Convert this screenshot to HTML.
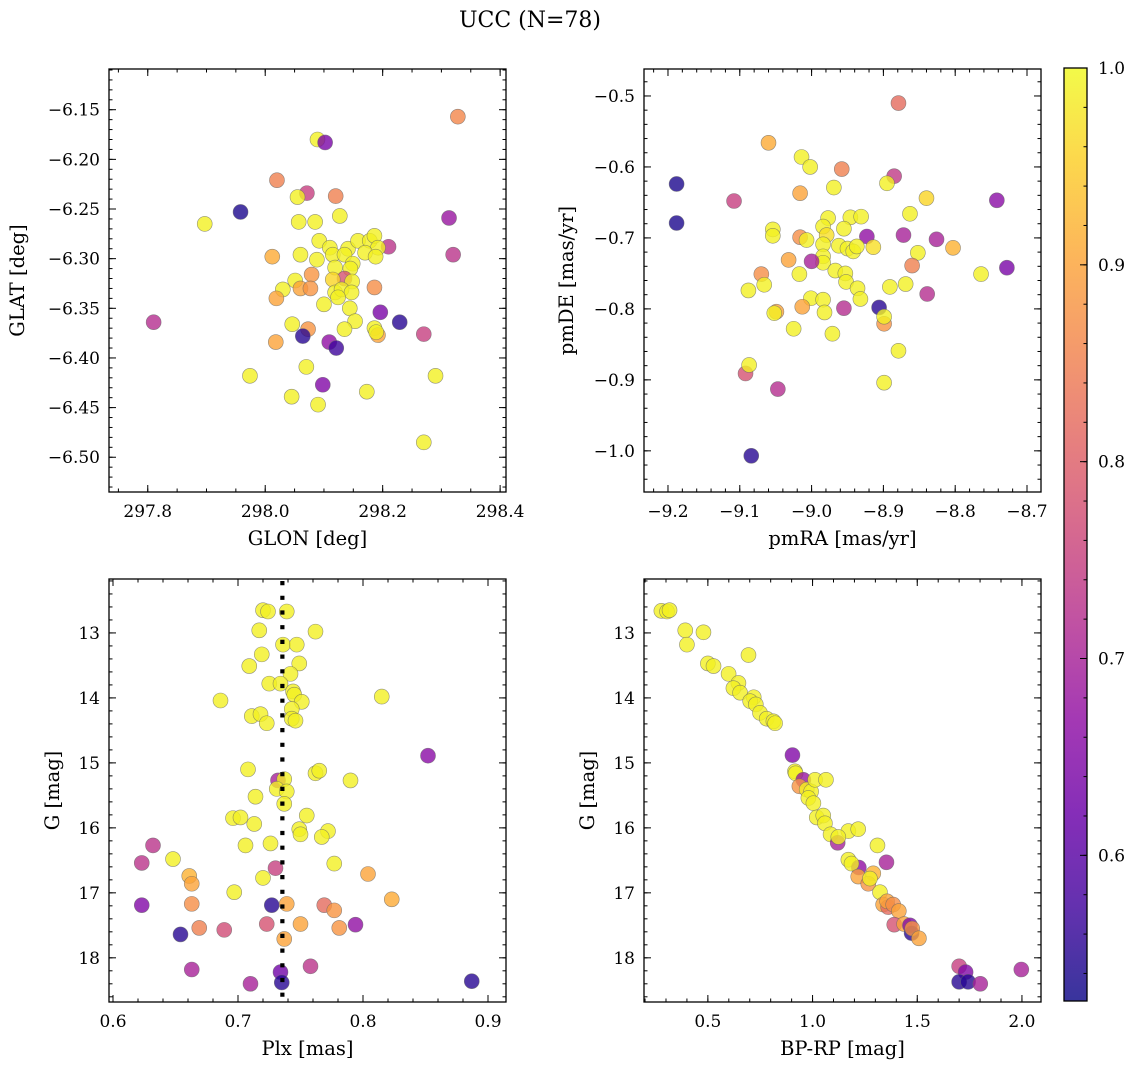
<!DOCTYPE html>
<html><head><meta charset="utf-8"><style>
html,body{margin:0;padding:0;background:#fff;}
svg{display:block;font-family:"DejaVu Serif","Liberation Serif",serif;}
</style></head><body>
<svg id="fig" width="1136" height="1068" viewBox="0 0 1136 1068" xmlns="http://www.w3.org/2000/svg">
<text x="530" y="27" text-anchor="middle" font-size="22">UCC (N=78)</text>
</svg>
<script>
// ---- Panel 1: GLON vs GLAT ----
const glon = [298.328,298.089,298.102,298.020,298.071,298.055,298.120,297.958,297.897,298.057,298.085,298.127,298.313,298.320,298.210,298.092,298.110,298.141,298.158,298.178,298.186,298.192,298.170,298.188,298.115,298.135,298.060,298.012,298.088,298.149,298.119,298.145,298.079,298.051,298.135,298.115,298.148,298.030,298.060,298.077,298.119,298.130,298.147,298.186,298.019,298.124,298.100,298.144,298.196,298.153,297.810,298.046,298.073,298.135,298.186,298.229,298.192,298.189,298.064,298.270,298.018,298.109,298.121,298.070,297.974,298.290,298.098,298.173,298.045,298.090,298.270];
const glat = [-6.157,-6.180,-6.183,-6.221,-6.234,-6.238,-6.237,-6.253,-6.265,-6.263,-6.263,-6.257,-6.259,-6.296,-6.288,-6.282,-6.289,-6.290,-6.282,-6.282,-6.277,-6.289,-6.294,-6.298,-6.296,-6.296,-6.296,-6.298,-6.301,-6.305,-6.309,-6.310,-6.316,-6.322,-6.320,-6.321,-6.323,-6.331,-6.330,-6.330,-6.334,-6.331,-6.334,-6.329,-6.340,-6.339,-6.346,-6.350,-6.354,-6.363,-6.364,-6.366,-6.371,-6.371,-6.370,-6.364,-6.377,-6.374,-6.378,-6.376,-6.384,-6.384,-6.390,-6.409,-6.418,-6.418,-6.427,-6.434,-6.439,-6.447,-6.485];
const p1 = [.86,.99,.64,.85,.75,.99,.85,.54,.99,.99,.99,.99,.68,.73,.73,.99,.99,.99,.99,.99,.99,.99,.99,.99,.99,.99,.99,.91,.99,.99,.99,.99,.88,.99,.78,.96,.99,.99,.9,.88,.99,.99,.99,.87,.9,.99,.99,.99,.64,.99,.72,.99,.88,.99,.99,.55,.9,.99,.55,.75,.9,.67,.57,.99,.99,.99,.65,.99,.99,.99,.99];
// ---- Panel 2: pmRA vs pmDE ----
const pmra = [-8.879,-9.060,-9.014,-9.002,-8.958,-8.885,-8.895,-9.188,-8.969,-9.108,-9.016,-8.840,-8.742,-9.188,-8.863,-8.977,-8.946,-8.931,-9.054,-9.054,-8.984,-8.955,-9.016,-9.007,-8.979,-8.984,-8.962,-8.923,-8.872,-8.826,-8.803,-8.914,-8.950,-8.942,-8.937,-8.852,-9.032,-8.984,-8.984,-9.000,-8.860,-8.728,-8.764,-9.070,-9.017,-8.967,-8.953,-8.952,-9.066,-9.088,-8.936,-8.891,-8.869,-8.932,-8.839,-9.001,-8.984,-9.013,-8.955,-8.906,-9.049,-9.052,-8.982,-8.899,-8.899,-8.971,-9.025,-8.879,-9.092,-9.087,-8.899,-9.047,-9.084];
const pmde = [-0.510,-0.566,-0.586,-0.600,-0.603,-0.613,-0.623,-0.624,-0.629,-0.648,-0.637,-0.644,-0.647,-0.679,-0.666,-0.672,-0.671,-0.670,-0.688,-0.697,-0.684,-0.687,-0.699,-0.703,-0.696,-0.709,-0.711,-0.698,-0.696,-0.702,-0.714,-0.713,-0.715,-0.719,-0.712,-0.721,-0.731,-0.726,-0.735,-0.733,-0.739,-0.742,-0.751,-0.751,-0.751,-0.746,-0.750,-0.762,-0.766,-0.774,-0.771,-0.769,-0.765,-0.786,-0.779,-0.785,-0.787,-0.797,-0.799,-0.798,-0.804,-0.806,-0.805,-0.821,-0.811,-0.835,-0.828,-0.859,-0.891,-0.879,-0.904,-0.913,-1.007];
const p2 = [.82,.91,.99,.99,.85,.74,.99,.54,.99,.75,.9,.96,.66,.54,.99,.99,.99,.99,.99,.99,.99,.99,.87,.99,.97,.99,.99,.67,.7,.7,.92,.97,.99,.99,.99,.99,.9,.99,.99,.7,.85,.64,.99,.87,.99,.99,.99,.99,.99,.99,.99,.99,.99,.99,.72,.99,.99,.9,.72,.55,.9,.99,.99,.88,.99,.99,.99,.99,.78,.99,.99,.72,.55];
// ---- Panel 3: Plx vs G ----
const plx = [.720,.724,.739,.717,.762,.736,.747,.719,.709,.749,.742,.725,.734,.744,.745,.686,.751,.815,.743,.711,.718,.723,.743,.746,.852,.708,.762,.765,.790,.732,.737,.731,.739,.737,.714,.755,.696,.702,.713,.749,.750,.772,.767,.706,.726,.632,.623,.648,.730,.777,.661,.663,.720,.804,.697,.823,.623,.663,.727,.739,.769,.777,.723,.750,.794,.654,.669,.689,.781,.737,.663,.758,.734,.710,.735,.887];
const g3 = [12.65,12.67,12.67,12.96,12.98,13.18,13.18,13.33,13.51,13.47,13.63,13.78,13.78,13.90,13.95,14.04,14.06,13.98,14.17,14.28,14.25,14.39,14.32,14.35,14.89,15.10,15.16,15.12,15.27,15.27,15.25,15.40,15.44,15.63,15.52,15.81,15.85,15.84,15.94,16.02,16.10,16.05,16.14,16.27,16.24,16.27,16.54,16.48,16.62,16.55,16.74,16.86,16.77,16.71,16.99,17.10,17.19,17.17,17.19,17.17,17.19,17.27,17.48,17.48,17.49,17.64,17.54,17.57,17.54,17.71,18.18,18.13,18.22,18.40,18.38,18.36];
const p3 = [.99,.99,.99,.99,.99,.99,.99,.99,.99,.99,.99,.99,.99,.99,.99,.99,.99,.99,.99,.99,.99,.99,.99,.99,.66,.99,.99,.99,.99,.7,.99,.99,.99,.99,.99,.99,.99,.99,.99,.99,.99,.99,.99,.99,.99,.73,.73,.99,.75,.99,.92,.9,.99,.9,.99,.91,.65,.87,.55,.9,.82,.88,.78,.9,.67,.55,.85,.77,.88,.9,.7,.73,.63,.7,.55,.55];
const plxMedian = 0.7355;
// ---- Panel 4: BP-RP vs G ----
const bprp = [.278,.305,.317,.392,.479,.400,.694,.500,.527,.599,.646,.622,.654,.719,.702,.729,.749,.781,.813,.821,.904,.916,.919,.956,.937,.972,.993,1.012,1.064,.980,1.004,1.020,1.051,1.059,1.171,1.218,1.086,1.120,1.123,1.310,1.353,1.171,1.221,1.186,1.218,1.290,1.266,1.274,1.322,1.337,1.361,1.356,1.385,1.412,1.390,1.437,1.465,1.473,1.476,1.508,1.700,1.731,1.700,1.743,1.801,1.997];
const g4 = [12.66,12.67,12.65,12.96,12.99,13.18,13.34,13.47,13.51,13.63,13.77,13.85,13.92,13.99,14.05,14.10,14.23,14.32,14.36,14.39,14.88,15.13,15.16,15.26,15.36,15.41,15.44,15.26,15.26,15.54,15.62,15.84,15.81,15.93,16.05,16.02,16.10,16.23,16.14,16.27,16.53,16.49,16.61,16.55,16.75,16.70,16.86,16.78,16.99,17.18,17.22,17.13,17.18,17.28,17.49,17.48,17.50,17.62,17.55,17.70,18.13,18.22,18.37,18.37,18.40,18.18];
const p4 = [.99,.99,.99,.99,.99,.99,.99,.99,.99,.99,.99,.99,.99,.99,.99,.99,.99,.99,.99,.99,.65,.99,.99,.68,.88,.99,.99,.99,.99,.99,.99,.99,.99,.99,.99,.99,.99,.7,.99,.99,.7,.99,.67,.99,.9,.92,.88,.99,.99,.9,.82,.9,.87,.9,.78,.9,.65,.55,.88,.9,.75,.65,.55,.55,.7,.7];
// colorbar
const cbTicks = [0.6,0.7,0.8,0.9,1.0];
const cbMin = 0.526, cbMax = 1.0;

const NS = "http://www.w3.org/2000/svg";
const svg = document.getElementById('fig');
function mk(tag, attrs, parent){const e=document.createElementNS(NS,tag);for(const k in attrs)e.setAttribute(k,attrs[k]);(parent||svg).appendChild(e);return e;}

const plasma=[[13,8,135],[65,4,157],[106,0,168],[143,13,164],[177,42,144],[204,71,120],[225,100,98],[242,132,75],[252,166,54],[252,206,37],[240,249,33]];
function cmap(t){t=Math.max(0,Math.min(1,t));const f=t*10,i=Math.min(9,Math.floor(f)),r=f-i;const a=plasma[i],b=plasma[i+1];
 return 'rgb('+[0,1,2].map(k=>Math.round(a[k]+(b[k]-a[k])*r)).join(',')+')';}
function colorOf(p){return cmap((p-cbMin)/(cbMax-cbMin));}

function fmt(v,d){const s=Math.abs(v).toFixed(d);return (v<-1e-9?'\u2212':'')+s;}

function panel(cfg){
 const g=mk('g',{});
 
 
 const {L,R,T,B}=cfg;
 const sx=v=>L+(v-cfg.x0)/(cfg.x1-cfg.x0)*(R-L);
 const sy=v=>T+(v-cfg.y0)/(cfg.y1-cfg.y0)*(B-T);
 const pg=mk('g',{},g);
 
 
 for(let i=0;i<Math.min(cfg.xs.length,cfg.ys.length,cfg.ps.length);i++){
  const c=mk('circle',{cx:sx(cfg.xs[i]),cy:sy(cfg.ys[i]),r:7.5,fill:colorOf(cfg.ps[i]),'fill-opacity':0.8,stroke:'#666','stroke-width':0.6,'stroke-opacity':0.7},pg);
  
  
 }
 if(cfg.vline!==undefined){
  const l=mk('line',{x1:sx(cfg.vline),x2:sx(cfg.vline),y1:T+2,y2:B,stroke:'#000','stroke-width':4.2,'stroke-dasharray':'4.2 10.5'},g);
  
  
 }
 const tk=mk('g',{stroke:'#000','stroke-width':1},g);
 const eps=1e-9;
 function range(a,b,step){const out=[];const s=Math.ceil(Math.min(a,b)/step-eps);for(let k=s;k*step<=Math.max(a,b)+eps;k++)out.push(+(k*step).toFixed(6));return out;}
 range(cfg.x0,cfg.x1,cfg.xminor).forEach(v=>{const x=sx(v);mk('line',{x1:x,x2:x,y1:B,y2:B-3.5},tk);mk('line',{x1:x,x2:x,y1:T,y2:T+3.5},tk);});
 range(cfg.y0,cfg.y1,cfg.yminor).forEach(v=>{const y=sy(v);mk('line',{x1:L,x2:L+3.5,y1:y,y2:y},tk);mk('line',{x1:R,x2:R-3.5,y1:y,y2:y},tk);});
 cfg.xticks.forEach(v=>{const x=sx(v);mk('line',{x1:x,x2:x,y1:B,y2:B-7},tk);mk('line',{x1:x,x2:x,y1:T,y2:T+7},tk);
  const t=mk('text',{x:x,y:B+25,'text-anchor':'middle','font-size':17},g);t.textContent=fmt(v,cfg.xdec);
  
  });
 cfg.yticks.forEach(v=>{const y=sy(v);mk('line',{x1:L,x2:L+7,y1:y,y2:y},tk);mk('line',{x1:R,x2:R-7,y1:y,y2:y},tk);
  const t=mk('text',{x:L-9,y:y+6,'text-anchor':'end','font-size':17},g);t.textContent=fmt(v,cfg.ydec);
  
  });
 const fr=mk('rect',{x:L,y:T,width:R-L,height:B-T,fill:'none',stroke:'#000','stroke-width':1.3},g);
 
 
 const xl=mk('text',{x:(L+R)/2,y:B+53,'text-anchor':'middle','font-size':19.5},g);xl.textContent=cfg.xlabel;
 
 
 const yy=(T+B)/2;
 const yl=mk('text',{x:cfg.ylx,y:yy,'text-anchor':'middle','font-size':19.5,transform:'rotate(-90 '+cfg.ylx+' '+yy+')'},g);yl.textContent=cfg.ylabel;
 
 
}

panel({name:'sky-position-panel',L:109,R:506,T:69,B:492,x0:297.734,x1:298.410,y0:-6.109,y1:-6.535,
 xs:glon,ys:glat,ps:p1,xticks:[297.8,298.0,298.2,298.4],xdec:1,xminor:0.05,yticks:[-6.15,-6.2,-6.25,-6.3,-6.35,-6.4,-6.45,-6.5],ydec:2,yminor:0.01,
 xlabel:'GLON [deg]',ylabel:'GLAT [deg]',ylx:24});
panel({name:'proper-motion-panel',L:644,R:1041,T:69,B:492,x0:-9.2334,x1:-8.6805,y0:-0.462,y1:-1.058,
 xs:pmra,ys:pmde,ps:p2,xticks:[-9.2,-9.1,-9.0,-8.9,-8.8,-8.7],xdec:1,xminor:0.02,yticks:[-0.5,-0.6,-0.7,-0.8,-0.9,-1.0],ydec:1,yminor:0.02,
 xlabel:'pmRA [mas/yr]',ylabel:'pmDE [mas/yr]',ylx:573});
panel({name:'parallax-panel',L:109,R:506,T:579,B:1002,x0:0.5968,x1:0.9144,y0:12.17,y1:18.68,
 xs:plx,ys:g3,ps:p3,vline:plxMedian,xticks:[0.6,0.7,0.8,0.9],xdec:1,xminor:0.02,yticks:[13,14,15,16,17,18],ydec:0,yminor:0.2,
 xlabel:'Plx [mas]',ylabel:'G [mag]',ylx:59});
panel({name:'cmd-panel',L:644,R:1041,T:579,B:1002,x0:0.195,x1:2.091,y0:12.17,y1:18.68,
 xs:bprp,ys:g4,ps:p4,xticks:[0.5,1.0,1.5,2.0],xdec:1,xminor:0.1,yticks:[13,14,15,16,17,18],ydec:0,yminor:0.2,
 xlabel:'BP-RP [mag]',ylabel:'G [mag]',ylx:594});

(function(){
 const L=1064,R=1087,T=68,B=1001;
 const defs=mk('defs',{});
 const lg=mk('linearGradient',{id:'cbg',x1:0,y1:1,x2:0,y2:0},defs);
 for(let i=0;i<=20;i++){mk('stop',{offset:(i/20),'stop-color':cmap(i/20),'stop-opacity':0.82},lg);}
 const g=mk('g',{});
 
 
 mk('rect',{x:L,y:T,width:R-L,height:B-T,fill:'url(#cbg)'},g);
 const sy=v=>B-(v-cbMin)/(cbMax-cbMin)*(B-T);
 for(let v=0.54;v<=1.0001;v+=0.02){const y=sy(v);mk('line',{x1:R,x2:R-3.5,y1:y,y2:y,stroke:'#000','stroke-width':1},g);}
 cbTicks.forEach(v=>{const y=sy(v);mk('line',{x1:R,x2:R-7,y1:y,y2:y,stroke:'#000','stroke-width':1},g);
  const t=mk('text',{x:R+11,y:y+6,'font-size':17},g);t.textContent=v.toFixed(1);
  
  });
 mk('rect',{x:L,y:T,width:R-L,height:B-T,fill:'none',stroke:'#000','stroke-width':1.3},g);
})();
</script>
</body></html>
